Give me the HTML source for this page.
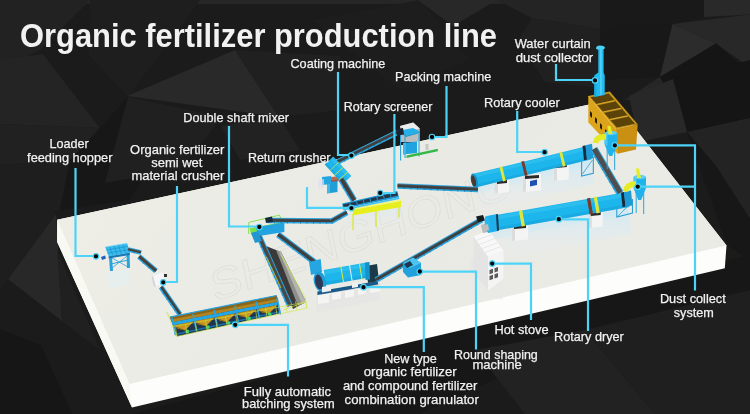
<!DOCTYPE html>
<html><head><meta charset="utf-8">
<style>
html,body{margin:0;padding:0;background:#1d1d1d;overflow:hidden;}
svg{display:block;will-change:transform;}
text{font-family:"Liberation Sans",sans-serif;fill:#f2f2f2;}
.lb{font-size:13px;stroke:#f2f2f2;stroke-width:0.25;}
</style></head><body>
<svg width="750" height="414" viewBox="0 0 750 414">
<defs>
<linearGradient id="topg" x1="0" y1="0" x2="1" y2="0.3">
<stop offset="0" stop-color="#efefe7"/><stop offset="0.55" stop-color="#eaeae5"/><stop offset="1" stop-color="#ebebe6"/>
</linearGradient>
<linearGradient id="refl" x1="0" y1="0" x2="0" y2="1">
<stop offset="0" stop-color="#cde9f5" stop-opacity="0.85"/><stop offset="1" stop-color="#e6eef2" stop-opacity="0"/>
</linearGradient>
</defs>
<rect width="750" height="414" fill="#1d1d1d"/>
<g id="bg">
<rect width="750" height="414" fill="#1b1b1b"/>
<polygon points="0,0 750,0 750,4 0,4" fill="#262626"/>
<polygon points="0,0 90,0 40,50 0,70" fill="#222"/>
<polygon points="90,0 200,0 128,97 89,56" fill="#1e1e1e"/>
<polygon points="127,96 235,50 279,117" fill="#292929"/>
<polygon points="235,50 340,56 340,110 279,117" fill="#202020"/>
<polygon points="221,126 279,117 300,150 240,160" fill="#222"/>
<polygon points="0,60 43,54 100,128 0,124" fill="#242424"/>
<polygon points="0,124 100,128 70,160 0,165" fill="#212121"/>
<polygon points="0,165 70,160 60,210 0,210" fill="#1e1e1e"/>
<polygon points="43,54 89,56 128,97 100,128" fill="#1b1b1b"/>
<polygon points="70,160 100,128 128,97 160,150 130,200 60,210" fill="#171717"/>
<polygon points="105,183 128,97 222,117 180,170" fill="#202020"/>
<polygon points="311,20 420,0 470,60 400,90" fill="#1d1d1d"/>
<polygon points="418,0 497,0 453,26" fill="#282828"/>
<polygon points="497,0 600,0 600,29 532,18" fill="#242424"/>
<polygon points="532,18 600,29 600,88 545,82 518,40" fill="#202020"/>
<polygon points="600,0 704,0 704,17 672.5,24 600,27" fill="#191919"/>
<polygon points="704,0 750,0 750,14.5 704,17" fill="#292929"/>
<polygon points="600,27 672.5,24 660,77 600,80" fill="#181818"/>
<polygon points="672.5,24 750,14.5 750,67.6 716,43.5" fill="#282828"/>
<polygon points="672.5,24 716,43.5 660,77" fill="#2c2c2c"/>
<polygon points="660,77 716,43.5 750,72.5 750,100 672,100" fill="#151515"/>
<polygon points="624,100 660,77 672,100" fill="#262626"/>
<polygon points="673,79 750,60 750,118 687,132" fill="#151515"/>
<polygon points="629,96 673,79 687,132 639,142" fill="#282828"/>
<polygon points="687,132 750,118 750,219 716,166" fill="#232323"/>
<polygon points="687,132 716,166 750,219 750,260 727,245" fill="#171717"/>
<polygon points="8,279 56,214 62,321" fill="#282828"/>
<polygon points="62,321 57,250 100,350" fill="#202020"/>
<polygon points="0,200 40,180 56,214 8,279 0,290" fill="#1e1e1e"/>
<polygon points="0,329 41,345 72,414 0,414" fill="#161616"/>
<polygon points="132,414 560,300 750,255 750,300 600,330 420,414" fill="#171717"/>
<polygon points="475,350 585,330 655,414 525,414" fill="#222"/>
<polygon points="655,414 585,330 750,290 750,414" fill="#1f1f1f"/>
</g>

<g id="platform">
<polygon points="57.2,219.8 57.2,242 132,407.5 724.8,268.2 726.5,245.4 612.6,99.4" fill="#fdfdfb"/>
<polygon points="57.2,219.8 57.2,242 132,407.5 129.5,384" fill="#f9f9f4"/>
<polygon points="57.2,219.8 612.6,99.4 726.5,245.4 129.5,384" fill="url(#topg)"/>
</g>
<g id="equip">
<text x="0" y="0" transform="translate(214,302) rotate(-19.5) skewX(-8)" font-size="43" font-weight="400" textLength="318" lengthAdjust="spacingAndGlyphs" style="fill:none;stroke:#dcdcd7;stroke-width:0.6;font-family:Liberation Sans,sans-serif">SHENGHONG</text>
<g opacity="0.45">
<polygon points="106.0,273.0 128.0,269.0 131.0,284.0 110.0,289.0" fill="#dff2f8" />
<polygon points="472.0,276.0 503.0,279.0 503.0,300.0 472.0,296.0" fill="#e8e8e8" />
<polygon points="316.0,306.0 381.0,293.0 381.0,300.0 316.0,312.0" fill="#eeeeee" />
<polygon points="488.0,232.0 628.0,207.0 628.0,214.0 488.0,240.0" fill="#c8e8f4" />
<polygon points="475.0,188.0 590.0,160.0 590.0,166.0 475.0,194.0" fill="#c8e8f4" />
</g>
<polygon points="500.0,231.0 628.0,207.0 632.0,234.0 504.0,260.0" fill="url(#refl)" />
<polygon points="476.0,187.0 590.0,159.0 594.0,184.0 480.0,213.0" fill="url(#refl)" />
<polygon points="344.0,210.0 400.0,199.0 402.0,222.0 346.0,233.0" fill="url(#refl)" opacity="0.6"/>
<polygon points="109.0,257.0 112.0,257.0 113.0,271.0 110.0,271.0" fill="#2aa3dc" />
<polygon points="126.5,253.0 129.5,253.0 130.0,268.0 127.0,268.0" fill="#2aa3dc" />
<line x1="111.0" y1="264.0" x2="128.0" y2="260.0" stroke="#2aa3dc" stroke-width="1" />
<line x1="112.0" y1="258.0" x2="128.0" y2="267.0" stroke="#2aa3dc" stroke-width="0.8" />
<line x1="112.0" y1="268.0" x2="127.0" y2="256.0" stroke="#2aa3dc" stroke-width="0.8" />
<polygon points="105.2,247.0 127.2,243.3 129.8,252.8 108.6,256.2" fill="#38bcee" />
<line x1="106.3" y1="250.0" x2="128.1" y2="246.4" stroke="#1a8cc8" stroke-width="0.6" />
<line x1="107.4" y1="253.1" x2="128.9" y2="249.6" stroke="#1a8cc8" stroke-width="0.6" />
<line x1="109.6" y1="246.3" x2="112.8" y2="255.5" stroke="#1a8cc8" stroke-width="0.6" />
<line x1="114.0" y1="245.5" x2="117.1" y2="254.8" stroke="#1a8cc8" stroke-width="0.6" />
<line x1="118.4" y1="244.8" x2="121.3" y2="254.2" stroke="#1a8cc8" stroke-width="0.6" />
<line x1="122.8" y1="244.0" x2="125.6" y2="253.5" stroke="#1a8cc8" stroke-width="0.6" />
<polygon points="108.6,256.2 129.8,252.8 129.8,255.0 108.6,258.5" fill="#1a7ab8" />
<line x1="105.2" y1="247.0" x2="127.2" y2="243.3" stroke="#7ad8fa" stroke-width="0.8" />
<polygon points="101.0,257.0 105.0,255.5 106.0,258.5 102.0,260.0" fill="#1e5fc0" />
<polygon points="128.5,247.3 141.5,250.3 140.5,254.7 127.5,251.7" fill="#2aa6e0" />
<polygon points="128.3,248.3 141.3,251.3 140.8,253.2 127.8,250.2" fill="#4a3a30" />
<polygon points="128.3,248.3 141.3,251.3 141.1,251.9 128.1,248.9" fill="#5a5a5a" opacity="0.6"/>
<line x1="134.4" y1="251.6" x2="134.0" y2="253.2" stroke="#1a6fa0" stroke-width="0.8" />
<polygon points="140.8,254.4 157.8,268.9 154.2,273.1 137.2,258.6" fill="#2aa6e0" />
<polygon points="140.1,255.2 157.1,269.7 155.2,272.0 138.2,257.5" fill="#4a4038" />
<polygon points="140.1,255.2 157.1,269.7 156.7,270.1 139.7,255.6" fill="#5a5a5a" opacity="0.6"/>
<line x1="143.9" y1="262.2" x2="142.9" y2="263.4" stroke="#1a6fa0" stroke-width="0.8" />
<line x1="149.6" y1="267.0" x2="148.5" y2="268.3" stroke="#1a6fa0" stroke-width="0.8" />
<polygon points="153.0,276.0 162.5,272.5 165.4,282.0 156.0,287.0" fill="#f6f6f8" />
<polygon points="153.0,276.0 156.0,287.0 154.0,286.5 151.5,277.0" fill="#d4d4da" />
<polygon points="164.0,274.0 167.0,274.0 167.0,277.0 164.0,277.0" fill="#333" />
<polygon points="163.1,285.6 182.1,313.1 177.9,315.9 158.9,288.4" fill="#2aa6e0" />
<polygon points="162.2,286.1 181.2,313.6 179.2,315.1 160.2,287.6" fill="#3f3f3f" />
<polygon points="162.2,286.1 181.2,313.6 180.7,314.0 161.7,286.5" fill="#5a5a5a" opacity="0.6"/>
<line x1="164.1" y1="293.0" x2="162.7" y2="293.9" stroke="#1a6fa0" stroke-width="0.8" />
<line x1="167.9" y1="298.5" x2="166.5" y2="299.4" stroke="#1a6fa0" stroke-width="0.8" />
<line x1="171.7" y1="304.0" x2="170.3" y2="304.9" stroke="#1a6fa0" stroke-width="0.8" />
<line x1="175.5" y1="309.5" x2="174.1" y2="310.4" stroke="#1a6fa0" stroke-width="0.8" />
<polygon points="266.0,246.0 281.0,252.0 306.0,302.0 293.0,309.0" fill="#3a3a3a" />
<polygon points="276.0,250.0 281.0,252.0 306.0,302.0 298.0,306.0" fill="#8e8e8a" />
<polygon points="279.0,251.5 281.0,252.0 306.0,302.0 302.0,304.0" fill="#b4b4b0" />
<polygon points="260.7,232.8 292.7,304.8 287.3,307.2 255.3,235.2" fill="#2aa6e0" />
<polygon points="259.8,233.2 291.8,305.2 288.6,306.6 256.6,234.6" fill="#484848" />
<polygon points="259.8,233.2 291.8,305.2 291.3,305.4 259.3,233.4" fill="#5a5a5a" opacity="0.6"/>
<line x1="259.4" y1="240.6" x2="257.9" y2="241.2" stroke="#1a6fa0" stroke-width="0.8" />
<line x1="262.1" y1="246.6" x2="260.6" y2="247.2" stroke="#1a6fa0" stroke-width="0.8" />
<line x1="264.7" y1="252.6" x2="263.3" y2="253.2" stroke="#1a6fa0" stroke-width="0.8" />
<line x1="267.4" y1="258.6" x2="265.9" y2="259.2" stroke="#1a6fa0" stroke-width="0.8" />
<line x1="270.1" y1="264.6" x2="268.6" y2="265.2" stroke="#1a6fa0" stroke-width="0.8" />
<line x1="272.7" y1="270.6" x2="271.3" y2="271.2" stroke="#1a6fa0" stroke-width="0.8" />
<line x1="275.4" y1="276.6" x2="273.9" y2="277.2" stroke="#1a6fa0" stroke-width="0.8" />
<line x1="278.1" y1="282.6" x2="276.6" y2="283.2" stroke="#1a6fa0" stroke-width="0.8" />
<line x1="280.7" y1="288.6" x2="279.3" y2="289.2" stroke="#1a6fa0" stroke-width="0.8" />
<line x1="283.4" y1="294.6" x2="281.9" y2="295.2" stroke="#1a6fa0" stroke-width="0.8" />
<line x1="286.1" y1="300.6" x2="284.6" y2="301.2" stroke="#1a6fa0" stroke-width="0.8" />
<g fill="none" stroke="#cfe83c" stroke-width="0.7">
<polyline points="266.4,256.7 281,288"/><polyline points="280.8,254.6 305.4,297.8 305.4,302 283,310"/>
</g>
<polygon points="169.8,317.1 276.5,295.5 279.5,313.5 177.0,336.4" fill="#1f3550" />
<polygon points="169.8,317.1 276.5,295.5 277.0,302.0 172.2,322.2" fill="#8a6418" />
<polygon points="171.0,319.5 276.8,299.0 277.0,302.0 172.2,322.2" fill="#b08420" />
<polygon points="172.2,322.2 277.0,302.0 277.6,305.0 173.0,325.4" fill="#22a8e8" />
<polygon points="173.0,325.4 193.9,321.3 185.0,330.4" fill="#c8961e" />
<polygon points="173.0,325.4 185.0,330.4 178.0,328.9" fill="#9a7218" />
<polygon points="193.9,321.3 214.8,317.2 205.9,326.3" fill="#c8961e" />
<polygon points="193.9,321.3 205.9,326.3 198.9,324.8" fill="#9a7218" />
<polygon points="214.8,317.2 235.8,313.2 226.8,322.2" fill="#c8961e" />
<polygon points="214.8,317.2 226.8,322.2 219.8,320.7" fill="#9a7218" />
<polygon points="235.8,313.2 256.7,309.1 247.7,318.1" fill="#c8961e" />
<polygon points="235.8,313.2 247.7,318.1 240.7,316.6" fill="#9a7218" />
<polygon points="256.7,309.1 277.6,305.0 268.6,314.0" fill="#c8961e" />
<polygon points="256.7,309.1 268.6,314.0 261.7,312.6" fill="#9a7218" />
<line x1="169.8" y1="317.1" x2="276.5" y2="295.5" stroke="#2aa3dc" stroke-width="1.2" />
<line x1="175.0" y1="334.5" x2="279.0" y2="312.0" stroke="#1a70a8" stroke-width="1.6" />
<line x1="172.0" y1="318.0" x2="175.5" y2="335.0" stroke="#2aa3dc" stroke-width="1.6" />
<line x1="193.0" y1="313.9" x2="196.5" y2="330.9" stroke="#2aa3dc" stroke-width="1.6" />
<line x1="214.0" y1="309.8" x2="217.5" y2="326.8" stroke="#2aa3dc" stroke-width="1.6" />
<line x1="235.0" y1="305.7" x2="238.5" y2="322.7" stroke="#2aa3dc" stroke-width="1.6" />
<line x1="256.0" y1="301.6" x2="259.5" y2="318.6" stroke="#2aa3dc" stroke-width="1.6" />
<line x1="277.0" y1="297.5" x2="280.5" y2="314.5" stroke="#2aa3dc" stroke-width="1.6" />
<circle cx="187.3" cy="331.4" r="1.9" fill="#3fd46e"/>
<circle cx="207.9" cy="327.1" r="1.9" fill="#3fd46e"/>
<circle cx="228.5" cy="322.8" r="1.9" fill="#3fd46e"/>
<circle cx="249.1" cy="318.4" r="1.9" fill="#3fd46e"/>
<circle cx="269.7" cy="314.1" r="1.9" fill="#3fd46e"/>
<g fill="none" stroke="#cfe83c" stroke-width="0.6">
<polyline points="166.8,312.3 177,336.4 307,308 305,300"/><polyline points="166.8,312.3 169.8,317.1"/><polyline points="171,327 306,302"/>
<line x1="177.0" y1="336.4" x2="175.5" y2="327.4"/>
<line x1="187.0" y1="334.2" x2="185.5" y2="325.2"/>
<line x1="197.0" y1="332.0" x2="195.5" y2="323.0"/>
<line x1="207.0" y1="329.8" x2="205.5" y2="320.8"/>
<line x1="217.0" y1="327.7" x2="215.5" y2="318.7"/>
<line x1="227.0" y1="325.5" x2="225.5" y2="316.5"/>
<line x1="237.0" y1="323.3" x2="235.5" y2="314.3"/>
<line x1="247.0" y1="321.1" x2="245.5" y2="312.1"/>
<line x1="257.0" y1="318.9" x2="255.5" y2="309.9"/>
<line x1="267.0" y1="316.7" x2="265.5" y2="307.7"/>
<line x1="277.0" y1="314.6" x2="275.5" y2="305.6"/>
<line x1="287.0" y1="312.4" x2="285.5" y2="303.4"/>
<line x1="297.0" y1="310.2" x2="295.5" y2="301.2"/>
<line x1="307.0" y1="308.0" x2="305.5" y2="299.0"/>
</g>
<polygon points="249.7,228.2 282.5,222.0 284.0,228.0 251.0,234.5" fill="#7de045" />
<polyline points="248.7,234 248.7,222.4 279.6,215.1 281.5,221" fill="none" stroke="#7de045" stroke-width="0.9"/>
<polygon points="255.5,227.2 284.4,222.5 284.4,232.0 259.3,236.0" fill="#23a3e0" />
<polygon points="251.0,233.0 258.0,231.0 262.0,241.0 255.0,243.0" fill="#2196d0" />
<polygon points="268.0,217.8 333.0,218.3 333.0,223.7 268.0,223.2" fill="#2aa6e0" />
<polygon points="268.0,218.8 333.0,219.3 333.0,222.2 268.0,221.7" fill="#3f3f3f" />
<polygon points="268.0,218.8 333.0,219.3 333.0,219.9 268.0,219.4" fill="#5a5a5a" opacity="0.6"/>
<line x1="274.5" y1="221.7" x2="274.5" y2="223.3" stroke="#1a6fa0" stroke-width="0.8" />
<line x1="281.0" y1="221.7" x2="281.0" y2="223.3" stroke="#1a6fa0" stroke-width="0.8" />
<line x1="287.5" y1="221.8" x2="287.5" y2="223.4" stroke="#1a6fa0" stroke-width="0.8" />
<line x1="294.0" y1="221.8" x2="294.0" y2="223.4" stroke="#1a6fa0" stroke-width="0.8" />
<line x1="300.5" y1="221.9" x2="300.5" y2="223.5" stroke="#1a6fa0" stroke-width="0.8" />
<line x1="307.0" y1="221.9" x2="307.0" y2="223.5" stroke="#1a6fa0" stroke-width="0.8" />
<line x1="313.5" y1="222.0" x2="313.5" y2="223.6" stroke="#1a6fa0" stroke-width="0.8" />
<line x1="320.0" y1="222.0" x2="320.0" y2="223.6" stroke="#1a6fa0" stroke-width="0.8" />
<line x1="326.5" y1="222.1" x2="326.5" y2="223.7" stroke="#1a6fa0" stroke-width="0.8" />
<polygon points="329.7,219.1 345.7,210.1 348.3,214.9 332.3,223.9" fill="#2aa6e0" />
<polygon points="330.1,220.0 346.1,211.0 347.6,213.6 331.6,222.6" fill="#3f3f3f" />
<polygon points="330.1,220.0 346.1,211.0 346.4,211.5 330.4,220.5" fill="#5a5a5a" opacity="0.6"/>
<line x1="339.6" y1="218.0" x2="340.3" y2="219.4" stroke="#1a6fa0" stroke-width="0.8" />
<polygon points="279.8,232.1 318.8,261.6 315.2,266.4 276.2,236.9" fill="#2aa6e0" />
<polygon points="279.2,232.9 318.2,262.4 316.1,265.2 277.1,235.7" fill="#3f3f3f" />
<polygon points="279.2,232.9 318.2,262.4 317.8,262.9 278.8,233.4" fill="#5a5a5a" opacity="0.6"/>
<line x1="282.7" y1="239.8" x2="281.8" y2="241.1" stroke="#1a6fa0" stroke-width="0.8" />
<line x1="288.3" y1="244.0" x2="287.3" y2="245.3" stroke="#1a6fa0" stroke-width="0.8" />
<line x1="293.9" y1="248.3" x2="292.9" y2="249.5" stroke="#1a6fa0" stroke-width="0.8" />
<line x1="299.4" y1="252.5" x2="298.5" y2="253.7" stroke="#1a6fa0" stroke-width="0.8" />
<line x1="305.0" y1="256.7" x2="304.0" y2="258.0" stroke="#1a6fa0" stroke-width="0.8" />
<line x1="310.6" y1="260.9" x2="309.6" y2="262.2" stroke="#1a6fa0" stroke-width="0.8" />
<polygon points="309.0,262.0 320.7,259.0 322.0,272.0 311.0,275.0" fill="#26a6e0" />
<polygon points="265.0,218.0 272.0,216.5 273.0,222.0 266.0,223.0" fill="#1a2a3a" />
<polygon points="316.0,298.0 380.0,285.0 380.0,300.0 316.0,313.0" fill="#dcdcdc" opacity="0.35"/>
<polygon points="318.0,292.5 329.0,291.0 329.0,302.5 318.0,304.0" fill="#f4f4f4" />
<polygon points="318.0,292.5 329.0,291.0 329.0,293.5 318.0,295.0" fill="#d8d8d8" />
<polygon points="332.0,290.5 341.0,289.0 341.0,298.5 332.0,300.0" fill="#f4f4f4" />
<polygon points="332.0,290.5 341.0,289.0 341.0,291.5 332.0,293.0" fill="#d8d8d8" />
<polygon points="345.0,288.5 354.0,287.0 354.0,296.5 345.0,298.0" fill="#f4f4f4" />
<polygon points="345.0,288.5 354.0,287.0 354.0,289.5 345.0,291.0" fill="#d8d8d8" />
<polygon points="358.0,286.5 366.0,285.0 366.0,293.5 358.0,295.0" fill="#f4f4f4" />
<polygon points="358.0,286.5 366.0,285.0 366.0,287.5 358.0,289.0" fill="#d8d8d8" />
<polygon points="370.0,284.5 380.0,283.0 380.0,291.5 370.0,293.0" fill="#f4f4f4" />
<polygon points="370.0,284.5 380.0,283.0 380.0,285.5 370.0,287.0" fill="#d8d8d8" />
<polygon points="317.4,291.5 378.0,281.0 378.0,284.5 317.4,295.0" fill="#1a5a8a" />
<polygon points="366.0,266.0 377.0,264.0 379.0,281.0 368.0,283.0" fill="#1a3a4a" />
<polygon points="323.7,270.0 366.7,262.5 369.3,277.5 326.3,285.0" fill="#1db6ec" />
<polygon points="323.8,270.8 366.8,263.3 367.5,267.0 324.5,274.5" fill="#52d2f8" opacity="0.3"/>
<polygon points="325.8,282.0 368.8,274.5 369.3,277.5 326.3,285.0" fill="#0c8fc8" opacity="0.3"/>
<polygon points="340.3,266.5 341.3,266.3 344.1,282.5 343.1,282.7" fill="#dfe83a" />
<polygon points="358.8,263.3 359.8,263.1 362.6,279.3 361.6,279.5" fill="#dfe83a" />
<polygon points="348.9,265.0 349.9,264.8 352.7,281.0 351.7,281.2" fill="#e8eef0" />
<polygon points="365.0,262.5 369.5,262.0 370.0,279.5 365.5,280.0" fill="#1890c8" />
<ellipse cx="320" cy="281.5" rx="6.2" ry="10.2" transform="rotate(-12 320 281.5)" fill="#1f9ed8"/>
<ellipse cx="319" cy="282" rx="3.8" ry="7.5" transform="rotate(-12 319 282)" fill="#2e3a55"/>
<polygon points="322.0,287.0 331.0,285.5 331.0,291.0 322.0,292.5" fill="#f0f0f0" />
<polygon points="352.0,283.0 358.0,282.0 358.0,287.0 352.0,288.0" fill="#f0f0f0" />
<polygon points="374.6,277.6 480.6,217.1 483.4,221.9 377.4,282.4" fill="#2aa6e0" />
<polygon points="375.1,278.5 481.1,218.0 482.6,220.6 376.6,281.1" fill="#3f3f3f" />
<polygon points="375.1,278.5 481.1,218.0 481.4,218.5 375.4,279.0" fill="#5a5a5a" opacity="0.6"/>
<line x1="382.5" y1="277.6" x2="383.3" y2="279.0" stroke="#1a6fa0" stroke-width="0.8" />
<line x1="388.3" y1="274.3" x2="389.1" y2="275.7" stroke="#1a6fa0" stroke-width="0.8" />
<line x1="394.2" y1="270.9" x2="395.0" y2="272.3" stroke="#1a6fa0" stroke-width="0.8" />
<line x1="400.1" y1="267.6" x2="400.9" y2="268.9" stroke="#1a6fa0" stroke-width="0.8" />
<line x1="406.0" y1="264.2" x2="406.8" y2="265.6" stroke="#1a6fa0" stroke-width="0.8" />
<line x1="411.9" y1="260.8" x2="412.7" y2="262.2" stroke="#1a6fa0" stroke-width="0.8" />
<line x1="417.8" y1="257.5" x2="418.6" y2="258.9" stroke="#1a6fa0" stroke-width="0.8" />
<line x1="423.7" y1="254.1" x2="424.5" y2="255.5" stroke="#1a6fa0" stroke-width="0.8" />
<line x1="429.6" y1="250.7" x2="430.4" y2="252.1" stroke="#1a6fa0" stroke-width="0.8" />
<line x1="435.5" y1="247.4" x2="436.3" y2="248.8" stroke="#1a6fa0" stroke-width="0.8" />
<line x1="441.3" y1="244.0" x2="442.1" y2="245.4" stroke="#1a6fa0" stroke-width="0.8" />
<line x1="447.2" y1="240.7" x2="448.0" y2="242.1" stroke="#1a6fa0" stroke-width="0.8" />
<line x1="453.1" y1="237.3" x2="453.9" y2="238.7" stroke="#1a6fa0" stroke-width="0.8" />
<line x1="459.0" y1="233.9" x2="459.8" y2="235.3" stroke="#1a6fa0" stroke-width="0.8" />
<line x1="464.9" y1="230.6" x2="465.7" y2="232.0" stroke="#1a6fa0" stroke-width="0.8" />
<line x1="470.8" y1="227.2" x2="471.6" y2="228.6" stroke="#1a6fa0" stroke-width="0.8" />
<line x1="476.7" y1="223.9" x2="477.5" y2="225.2" stroke="#1a6fa0" stroke-width="0.8" />
<polygon points="476.0,216.5 483.0,215.0 485.0,220.5 478.0,222.0" fill="#1a1a1a" />
<polygon points="402.8,263.0 413.0,257.5 421.0,263.0 421.0,275.0 408.0,277.6 403.0,272.0" fill="#22a2dc" />
<polygon points="403.0,263.0 413.0,257.5 421.0,263.0 410.0,268.0" fill="#4cc4f0" />
<polygon points="404.0,264.0 410.0,261.0 413.0,265.0 407.0,268.0" fill="#1a3a50" />
<polygon points="470.6,259.5 477.4,258.0 477.4,273.0 470.6,274.0" fill="#e6e6e6" />
<polygon points="473.5,236.3 488.0,256.6 488.0,290.4 473.5,273.0" fill="#e4e4e4" />
<polygon points="488.0,256.6 503.5,250.8 503.5,278.8 488.0,290.4" fill="#f4f4f4" />
<polygon points="473.5,236.3 489.0,230.5 503.5,250.8 488.0,256.6" fill="#f8f8f8" />
<g stroke="#d0d0d0" stroke-width="0.5">
<line x1="476.4" y1="240.4" x2="491.9" y2="234.6" stroke="#d6d6d6" stroke-width="0.5" />
<line x1="479.3" y1="244.4" x2="494.8" y2="238.6" stroke="#d6d6d6" stroke-width="0.5" />
<line x1="482.2" y1="248.5" x2="497.7" y2="242.7" stroke="#d6d6d6" stroke-width="0.5" />
<line x1="485.1" y1="252.5" x2="500.6" y2="246.7" stroke="#d6d6d6" stroke-width="0.5" />
</g>
<g fill="#5a5a5a"><polygon points="489.5,270 493,268.8 493,273 489.5,274.2"/><polygon points="494.5,268.3 498,267 498,271.2 494.5,272.5"/><polygon points="489.5,276 493,274.8 493,279 489.5,280.2"/><polygon points="494.5,274.3 498,273 498,277.2 494.5,278.5"/></g>
<polygon points="481.0,225.0 491.0,222.0 493.0,231.0 483.0,233.0" fill="#b8b8b8" />
<polygon points="512.0,225.5 528.0,224.0 528.0,239.5 512.0,241.0" fill="#f4f4f4" />
<polygon points="512.0,225.5 515.0,225.0 515.0,240.5 512.0,241.0" fill="#dcdcdc" />
<polygon points="514.0,226.0 526.0,225.0 526.0,228.0 514.0,229.0" fill="#2a2a2a" />
<polygon points="588.8,212.5 602.7,211.0 602.7,226.5 588.8,228.0" fill="#f4f4f4" />
<polygon points="588.8,212.5 591.8,212.0 591.8,227.5 588.8,228.0" fill="#dcdcdc" />
<polygon points="590.8,213.0 600.7,212.0 600.7,215.0 590.8,216.0" fill="#2a2a2a" />
<polyline points="616.8,203 616.8,217 632.5,213 632.5,199" fill="none" stroke="#2a9fd6" stroke-width="1.1"/>
<line x1="618.0" y1="216.0" x2="630.0" y2="204.0" stroke="#2a9fd6" stroke-width="0.8" />
<polygon points="490.7,216.0 626.7,192.0 629.3,207.0 493.3,231.0" fill="#1db6ec" />
<polygon points="490.8,216.8 626.8,192.8 627.5,196.5 491.5,220.5" fill="#52d2f8" opacity="0.3"/>
<polygon points="492.8,228.0 628.8,204.0 629.3,207.0 493.3,231.0" fill="#0c8fc8" opacity="0.3"/>
<polygon points="518.9,210.4 522.1,209.8 525.0,226.0 521.7,226.6" fill="#dfe83a" />
<polygon points="593.7,197.2 596.9,196.6 599.8,212.8 596.5,213.4" fill="#dfe83a" />
<polygon points="586.9,198.4 590.1,197.8 593.0,214.0 589.7,214.6" fill="#7a3a2a" />
<polygon points="621.0,192.5 624.0,192.0 625.5,206.5 622.5,207.0" fill="#1a2a3a" />
<polygon points="624.0,192.0 631.0,190.5 632.5,205.5 625.5,206.5" fill="#1e9ad6" />
<polygon points="487.0,216.0 497.0,214.0 498.0,231.0 488.0,233.0" fill="#1fb0ea" />
<ellipse cx="487.5" cy="224.5" rx="2.5" ry="8.6" transform="rotate(-10 487.5 224.5)" fill="#25b8f0"/>
<polygon points="496.0,214.5 498.0,214.0 499.0,230.5 497.0,231.0" fill="#1a3a50" />
<polygon points="481.0,226.0 488.0,224.0 489.0,230.0 483.0,232.0" fill="#bdbdbd" />
<polygon points="495.0,180.5 509.0,179.0 509.0,192.0 495.0,193.5" fill="#f4f4f4" />
<polygon points="495.0,180.5 498.0,180.0 498.0,193.0 495.0,193.5" fill="#dcdcdc" />
<polygon points="497.0,181.0 507.0,180.0 507.0,183.0 497.0,184.0" fill="#2a2a2a" />
<polygon points="523.0,175.5 541.0,174.0 541.0,190.5 523.0,192.0" fill="#f4f4f4" />
<polygon points="523.0,175.5 526.0,175.0 526.0,191.5 523.0,192.0" fill="#dcdcdc" />
<polygon points="525.0,176.0 539.0,175.0 539.0,178.0 525.0,179.0" fill="#2a2a2a" />
<polygon points="554.0,164.5 568.8,163.0 568.8,179.5 554.0,181.0" fill="#f4f4f4" />
<polygon points="554.0,164.5 557.0,164.0 557.0,180.5 554.0,181.0" fill="#dcdcdc" />
<polygon points="556.0,165.0 566.8,164.0 566.8,167.0 556.0,168.0" fill="#2a2a2a" />
<polygon points="530.0,181.0 537.0,179.5 537.0,185.0 530.0,186.5" fill="#2050b0" />
<polyline points="581.6,160 581.6,176 593.3,173.4 593.3,157" fill="none" stroke="#2a9fd6" stroke-width="1.1"/>
<line x1="582.5" y1="174.0" x2="592.5" y2="160.0" stroke="#2a9fd6" stroke-width="0.8" />
<polygon points="473.4,173.8 588.4,145.8 591.6,159.2 476.6,187.2" fill="#1db6ec" />
<polygon points="473.5,174.5 588.5,146.5 589.3,149.8 474.3,177.8" fill="#52d2f8" opacity="0.3"/>
<polygon points="476.0,184.5 591.0,156.5 591.6,159.2 476.6,187.2" fill="#0c8fc8" opacity="0.3"/>
<polygon points="499.5,166.9 502.2,166.2 505.7,180.7 503.0,181.4" fill="#dfe83a" />
<polygon points="559.3,152.3 562.0,151.6 565.5,166.1 562.8,166.8" fill="#dfe83a" />
<polygon points="521.3,161.6 524.1,160.9 527.6,175.4 524.8,176.0" fill="#7a3a2a" />
<polygon points="582.5,146.0 585.5,145.3 587.0,159.5 584.0,160.2" fill="#1a2a3a" />
<polygon points="585.5,145.3 592.0,143.8 593.5,158.0 587.0,159.5" fill="#1e9ad6" />
<ellipse cx="474.3" cy="180.8" rx="3.3" ry="7.5" transform="rotate(-13 474.3 180.8)" fill="#1590c8"/>
<ellipse cx="473.6" cy="181.1" rx="2.2" ry="5.7" transform="rotate(-13 473.6 181.1)" fill="#4a3a30"/>
<polygon points="597.2,147.1 623.2,191.1 616.8,194.9 590.8,150.9" fill="#2aa6e0" />
<polygon points="596.4,147.6 622.4,191.6 618.1,194.1 592.1,150.1" fill="#4e4e4e" />
<polygon points="596.4,147.6 622.4,191.6 621.9,191.9 595.9,147.9" fill="#5a5a5a" opacity="0.6"/>
<line x1="595.9" y1="156.4" x2="594.5" y2="157.2" stroke="#1a6fa0" stroke-width="0.8" />
<line x1="599.6" y1="162.7" x2="598.2" y2="163.5" stroke="#1a6fa0" stroke-width="0.8" />
<line x1="603.3" y1="169.0" x2="601.9" y2="169.8" stroke="#1a6fa0" stroke-width="0.8" />
<line x1="607.0" y1="175.2" x2="605.6" y2="176.1" stroke="#1a6fa0" stroke-width="0.8" />
<line x1="610.7" y1="181.5" x2="609.3" y2="182.3" stroke="#1a6fa0" stroke-width="0.8" />
<line x1="614.4" y1="187.8" x2="613.1" y2="188.6" stroke="#1a6fa0" stroke-width="0.8" />
<polygon points="588.3,96.0 609.8,91.5 637.7,124.3 616.0,129.0" fill="#c8961a" />
<polygon points="590.5,97.3 608.8,93.4 635.0,123.8 616.8,127.6" fill="#5a4208" />
<polygon points="596.3,104.0 614.6,100.1 615.9,101.6 597.6,105.5" fill="#9a7414" />
<polygon points="596.3,104.0 614.6,100.1 614.6,101.3 596.3,105.2" fill="#d4a42a" />
<polygon points="602.9,111.5 621.1,107.7 622.4,109.2 604.2,113.1" fill="#9a7414" />
<polygon points="602.9,111.5 621.1,107.7 621.1,108.9 602.9,112.7" fill="#d4a42a" />
<polygon points="609.4,119.1 627.7,115.3 629.0,116.8 610.8,120.6" fill="#9a7414" />
<polygon points="609.4,119.1 627.7,115.3 627.7,116.5 609.4,120.3" fill="#d4a42a" />
<polygon points="588.3,96.0 616.0,129.0 617.4,153.8 588.3,122.3" fill="#dca41a" />
<polygon points="616.0,129.0 637.7,124.3 636.0,149.6 617.4,153.8" fill="#c99012" />
<line x1="588.3" y1="96.0" x2="616.0" y2="129.0" stroke="#f0c040" stroke-width="0.8" />
<g fill="#2a1e08"><polygon points="590,111 592,113 592,118 590,116"/><polygon points="595,117 597,119 597,124 595,122"/><polygon points="600,123 602,125 602,130 600,128"/><polygon points="605,129 607,131 607,136 605,134"/></g>
<polygon points="598.3,49.0 603.6,49.0 603.6,72.4 604.7,75.4 604.7,95.0 594.2,97.0 594.2,75.4 598.3,72.4" fill="#22bdf0" />
<polygon points="600.0,49.0 601.8,49.0 601.8,95.0 600.0,95.0" fill="#7ae0fc" opacity="0.5"/>
<polygon points="594.2,76.0 596.5,76.0 596.5,96.5 594.2,97.0" fill="#12a0d8" opacity="0.6"/>
<path d="M596,48.5 Q596,45.5 600,45.5 Q604,45.5 605,47.5 Q605,49.5 601,49.5 L597,49.5 Z" fill="#4ccff6"/>
<line x1="607.2" y1="147.0" x2="607.2" y2="169.0" stroke="#2aa3dc" stroke-width="1" />
<line x1="614.7" y1="147.0" x2="614.7" y2="170.0" stroke="#2aa3dc" stroke-width="1" />
<polygon points="604.5,133.0 617.0,133.0 617.0,144.0 612.2,156.0 609.2,156.0 604.5,144.0" fill="#20b2ea" />
<polygon points="604.5,133.0 607.5,133.0 607.5,146.0 604.5,144.0" fill="#6ad8fa" opacity="0.6"/>
<ellipse cx="610.7" cy="133" rx="6.25" ry="2.2" fill="#5cd0f4"/>
<path d="M595.5,143 Q596.5,136 606,137" fill="none" stroke="#e4ec28" stroke-width="5.5"/>
<polygon points="607.5,126.0 610.5,126.0 612.5,134.0 608.5,134.0" fill="#e4ec28" />
<line x1="636.2" y1="191.0" x2="636.2" y2="213.0" stroke="#2aa3dc" stroke-width="1" />
<line x1="643.7" y1="191.0" x2="643.7" y2="214.0" stroke="#2aa3dc" stroke-width="1" />
<polygon points="633.5,177.0 646.0,177.0 646.0,188.0 641.2,200.0 638.2,200.0 633.5,188.0" fill="#20b2ea" />
<polygon points="633.5,177.0 636.5,177.0 636.5,190.0 633.5,188.0" fill="#6ad8fa" opacity="0.6"/>
<ellipse cx="639.7" cy="177" rx="6.25" ry="2.2" fill="#5cd0f4"/>
<path d="M625.5,191.5 Q626.5,184 636,184" fill="none" stroke="#e4ec28" stroke-width="5.5"/>
<polygon points="636.0,168.6 639.0,168.6 641.0,178.0 637.0,178.0" fill="#e4ec28" />
<polygon points="336.2,159.5 396.8,129.5 399.2,134.5 338.6,164.5" fill="#2aa6e0" />
<polygon points="336.6,160.4 397.2,130.4 398.6,133.1 338.0,163.1" fill="#3f3f3f" />
<polygon points="336.6,160.4 397.2,130.4 397.5,131.0 336.9,161.0" fill="#5a5a5a" opacity="0.6"/>
<line x1="344.0" y1="160.0" x2="344.7" y2="161.5" stroke="#1a6fa0" stroke-width="0.8" />
<line x1="350.0" y1="157.0" x2="350.7" y2="158.5" stroke="#1a6fa0" stroke-width="0.8" />
<line x1="356.1" y1="154.0" x2="356.8" y2="155.5" stroke="#1a6fa0" stroke-width="0.8" />
<line x1="362.2" y1="151.0" x2="362.9" y2="152.5" stroke="#1a6fa0" stroke-width="0.8" />
<line x1="368.2" y1="148.0" x2="368.9" y2="149.5" stroke="#1a6fa0" stroke-width="0.8" />
<line x1="374.3" y1="145.0" x2="375.0" y2="146.5" stroke="#1a6fa0" stroke-width="0.8" />
<line x1="380.3" y1="142.0" x2="381.0" y2="143.5" stroke="#1a6fa0" stroke-width="0.8" />
<line x1="386.4" y1="139.0" x2="387.1" y2="140.5" stroke="#1a6fa0" stroke-width="0.8" />
<line x1="392.5" y1="136.0" x2="393.2" y2="137.5" stroke="#1a6fa0" stroke-width="0.8" />
<polygon points="327.0,181.0 337.5,179.5 337.5,192.0 327.0,193.5" fill="#1f9ed8" />
<polygon points="327.0,181.0 330.0,180.6 330.0,193.0 327.0,193.5" fill="#5cc8f0" opacity="0.6"/>
<polygon points="322.0,177.0 331.0,176.0 331.0,184.0 322.0,185.0" fill="#26a6e0" />
<polygon points="331.0,177.0 340.0,176.0 340.0,181.0 331.0,182.0" fill="#b04a2a" opacity="0.8"/>
<polygon points="318.0,180.0 324.0,179.0 324.0,188.0 318.0,189.0" fill="#e0e0f0" opacity="0.7"/>
<polygon points="333.3,156.6 351.3,176.1 342.7,183.9 324.7,164.4" fill="#1db6ec" />
<polygon points="332.8,157.0 350.8,176.5 348.7,178.4 330.7,158.9" fill="#52d2f8" opacity="0.3"/>
<polygon points="326.4,162.9 344.4,182.4 342.7,183.9 324.7,164.4" fill="#0c8fc8" opacity="0.3"/>
<polygon points="338.8,161.9 339.2,162.3 330.0,170.8 329.6,170.4" fill="#dfe83a" />
<polygon points="343.3,166.7 343.7,167.2 334.5,175.7 334.1,175.2" fill="#dfe83a" />
<polygon points="347.8,171.6 348.2,172.1 339.0,180.6 338.6,180.1" fill="#dfe83a" />
<polygon points="344.0,177.3 356.8,198.8 351.2,202.2 338.4,180.7" fill="#2aa6e0" />
<polygon points="343.1,177.8 355.9,199.3 352.5,201.4 339.7,179.9" fill="#3f3f3f" />
<polygon points="343.1,177.8 355.9,199.3 355.4,199.7 342.6,178.2" fill="#5a5a5a" opacity="0.6"/>
<line x1="344.0" y1="187.0" x2="342.7" y2="187.8" stroke="#1a6fa0" stroke-width="0.8" />
<line x1="348.3" y1="194.2" x2="346.9" y2="195.0" stroke="#1a6fa0" stroke-width="0.8" />
<g stroke="#d8e820" stroke-width="1.2"><line x1="353" y1="214" x2="353" y2="229.9"/><line x1="376" y1="210" x2="376" y2="227"/><line x1="399" y1="205" x2="399" y2="217.6"/></g>
<polygon points="352.8,209.8 401.0,201.0 401.0,207.0 352.8,215.6" fill="#e6ee1c" />
<polygon points="352.8,208.0 401.0,199.2 401.0,201.0 352.8,209.8" fill="#f4f87a" />
<polygon points="342.2,203.5 397.2,191.0 399.0,197.3 343.0,209.0" fill="#1e9ad6" />
<polygon points="343.0,204.5 397.0,192.3 398.0,195.5 343.5,207.5" fill="#24364a" />
<line x1="349.8" y1="203.0" x2="350.4" y2="206.0" stroke="#2aa3dc" stroke-width="0.9" />
<line x1="356.5" y1="201.4" x2="357.2" y2="204.4" stroke="#2aa3dc" stroke-width="0.9" />
<line x1="363.2" y1="199.9" x2="363.9" y2="202.9" stroke="#2aa3dc" stroke-width="0.9" />
<line x1="370.0" y1="198.4" x2="370.7" y2="201.4" stroke="#2aa3dc" stroke-width="0.9" />
<line x1="376.8" y1="196.9" x2="377.4" y2="199.9" stroke="#2aa3dc" stroke-width="0.9" />
<line x1="383.5" y1="195.4" x2="384.2" y2="198.4" stroke="#2aa3dc" stroke-width="0.9" />
<line x1="390.2" y1="193.8" x2="390.9" y2="196.8" stroke="#2aa3dc" stroke-width="0.9" />
<polygon points="343.0,209.0 399.0,197.3 399.5,199.0 343.5,210.5" fill="#48c0ee" />
<polygon points="397.6,183.3 478.1,186.8 477.9,192.2 397.4,188.7" fill="#2aa6e0" />
<polygon points="397.6,184.3 478.1,187.8 477.9,190.7 397.4,187.2" fill="#3f3f3f" />
<polygon points="397.6,184.3 478.1,187.8 478.0,188.4 397.5,184.9" fill="#5a5a5a" opacity="0.6"/>
<line x1="404.2" y1="187.4" x2="404.1" y2="189.0" stroke="#1a6fa0" stroke-width="0.8" />
<line x1="410.9" y1="187.7" x2="410.8" y2="189.3" stroke="#1a6fa0" stroke-width="0.8" />
<line x1="417.6" y1="188.0" x2="417.5" y2="189.6" stroke="#1a6fa0" stroke-width="0.8" />
<line x1="424.3" y1="188.3" x2="424.2" y2="189.9" stroke="#1a6fa0" stroke-width="0.8" />
<line x1="431.0" y1="188.6" x2="430.9" y2="190.2" stroke="#1a6fa0" stroke-width="0.8" />
<line x1="437.7" y1="188.9" x2="437.6" y2="190.5" stroke="#1a6fa0" stroke-width="0.8" />
<line x1="444.4" y1="189.2" x2="444.3" y2="190.8" stroke="#1a6fa0" stroke-width="0.8" />
<line x1="451.1" y1="189.5" x2="451.0" y2="191.1" stroke="#1a6fa0" stroke-width="0.8" />
<line x1="457.8" y1="189.8" x2="457.8" y2="191.4" stroke="#1a6fa0" stroke-width="0.8" />
<line x1="464.5" y1="190.1" x2="464.5" y2="191.7" stroke="#1a6fa0" stroke-width="0.8" />
<line x1="471.2" y1="190.4" x2="471.2" y2="192.0" stroke="#1a6fa0" stroke-width="0.8" />
<polygon points="400.0,126.0 413.2,122.6 419.8,128.6 419.8,142.0 400.0,142.0" fill="#f2f4f6" opacity="0.75"/>
<polygon points="400.0,126.0 413.2,122.6 419.8,128.6 406.0,132.0" fill="#ffffff" opacity="0.7"/>
<g stroke="#2aa6e0" stroke-width="1.1"><line x1="400.6" y1="135" x2="400.6" y2="160.5"/><line x1="419" y1="134" x2="419" y2="156.5"/><line x1="405" y1="136" x2="405" y2="158"/></g>
<polygon points="400.0,130.5 413.0,128.0 419.8,131.5 406.0,135.5" fill="#26b0ea" />
<polygon points="400.0,130.5 406.0,135.5 406.0,137.0 400.0,132.0" fill="#1a8cc8" />
<polygon points="406.0,135.5 419.8,131.5 419.8,133.0 406.0,137.0" fill="#1f9ed8" />
<polygon points="403.0,143.0 417.0,141.5 417.0,153.0 403.0,154.5" fill="#20a4e0" />
<polygon points="403.0,143.0 406.0,142.7 406.0,154.2 403.0,154.5" fill="#5cc8f0" opacity="0.5"/>
<polygon points="406.5,155.5 437.8,148.8 437.8,151.2 406.5,158.0" fill="#34b848" />
<polygon points="396.0,129.0 403.0,128.0 404.0,134.5 397.0,135.5" fill="#1a2530" />
<polygon points="425.5,144.0 428.5,144.0 428.5,150.0 425.5,150.0" fill="#c8c8c8" />
</g>
<!-- leader lines -->
<g fill="none" stroke="#4dd3f7" stroke-width="2.2">
<polyline points="75.5,168 75.5,256 96,256"/>
<polyline points="177,186 177,282 163,282"/>
<polyline points="229,126 229,226.5 259,226.5"/>
<polyline points="338,72 338,155 351,155"/>
<polyline points="307,187 307,207.8 351,207.8"/>
<polyline points="394.4,114 394.4,193 380,193"/>
<polyline points="446.5,86 446.5,137 432,137"/>
<polyline points="517.2,111 517.2,152 544.6,152"/>
<polyline points="556,64 556,80 595,80"/>
<polyline points="615,145.3 695,145.3 695,290.5"/>
<polyline points="637.7,186.6 695,186.6"/>
<polyline points="558.8,219.3 588,219.3 588,331"/>
<polyline points="492.2,263.6 531,263.6 531,320"/>
<polyline points="419.8,271.6 476,271.6 476,349.5"/>
<polyline points="363.5,287.2 423.8,287.2 423.8,352"/>
<polyline points="235.2,324.8 288,324.8 288,376.4"/>
</g>
<g fill="#050505" stroke="#4dd3f7" stroke-width="1.2">
<circle cx="96" cy="256.3" r="2.75"/>
<circle cx="163.2" cy="282.3" r="2.75"/>
<circle cx="259.3" cy="227" r="2.75"/>
<circle cx="351.4" cy="155.6" r="2.75"/>
<circle cx="351.4" cy="208.1" r="2.75"/>
<circle cx="380.2" cy="193" r="2.75"/>
<circle cx="432" cy="137" r="2.75"/>
<circle cx="544.6" cy="152.2" r="2.75"/>
<circle cx="595" cy="80.4" r="2.75"/>
<circle cx="614.8" cy="145.4" r="2.75"/>
<circle cx="637.7" cy="186.7" r="2.75"/>
<circle cx="558.8" cy="219.2" r="2.75"/>
<circle cx="492.2" cy="263.6" r="2.75"/>
<circle cx="419.8" cy="271.5" r="2.75"/>
<circle cx="363.5" cy="287.2" r="2.75"/>
<circle cx="235.2" cy="324.8" r="2.75"/>
</g>
<!-- title -->
<text x="20" y="46.5" font-size="32.5" font-weight="700" textLength="477" lengthAdjust="spacingAndGlyphs">Organic fertilizer production line</text>
<!-- labels -->
<g class="lb">
<text x="290.5" y="67.6" textLength="94.8" lengthAdjust="spacingAndGlyphs">Coating machine</text>
<text x="395" y="81" textLength="96.2" lengthAdjust="spacingAndGlyphs">Packing machine</text>
<text x="343.8" y="111.4" textLength="88.5" lengthAdjust="spacingAndGlyphs">Rotary screener</text>
<text x="484" y="107.2" textLength="75.8" lengthAdjust="spacingAndGlyphs">Rotary cooler</text>
<text x="514.7" y="47.5" textLength="76" lengthAdjust="spacingAndGlyphs">Water curtain</text>
<text x="515.7" y="61.9" textLength="77.4" lengthAdjust="spacingAndGlyphs">dust collector</text>
<text x="183.3" y="121.5" textLength="105.7" lengthAdjust="spacingAndGlyphs">Double shaft mixer</text>
<text x="49.4" y="148.2" textLength="39.2" lengthAdjust="spacingAndGlyphs">Loader</text>
<text x="27.1" y="161.7" textLength="85.3" lengthAdjust="spacingAndGlyphs">feeding hopper</text>
<text x="130.1" y="153.5" textLength="94.3" lengthAdjust="spacingAndGlyphs">Organic fertilizer</text>
<text x="151.2" y="167.2" textLength="51.2" lengthAdjust="spacingAndGlyphs">semi wet</text>
<text x="131.5" y="180.4" textLength="92.9" lengthAdjust="spacingAndGlyphs">material crusher</text>
<text x="247.9" y="162.4" textLength="82.6" lengthAdjust="spacingAndGlyphs">Return crusher</text>
<text x="243.8" y="395.5" textLength="87.3" lengthAdjust="spacingAndGlyphs">Fully automatic</text>
<text x="242" y="407.6" textLength="92.6" lengthAdjust="spacingAndGlyphs">batching system</text>
<text x="384.2" y="362.5" textLength="52.6" lengthAdjust="spacingAndGlyphs">New type</text>
<text x="363.7" y="376.4" textLength="92.9" lengthAdjust="spacingAndGlyphs">organic fertilizer</text>
<text x="342.9" y="390.3" textLength="134.5" lengthAdjust="spacingAndGlyphs">and compound fertilizer</text>
<text x="344.6" y="404.1" textLength="134.2" lengthAdjust="spacingAndGlyphs">combination granulator</text>
<text x="454" y="359.2" textLength="83.8" lengthAdjust="spacingAndGlyphs">Round shaping</text>
<text x="472.4" y="369.2" textLength="49.4" lengthAdjust="spacingAndGlyphs">machine</text>
<text x="494.4" y="334" textLength="54.2" lengthAdjust="spacingAndGlyphs">Hot stove</text>
<text x="554" y="340.8" textLength="69.8" lengthAdjust="spacingAndGlyphs">Rotary dryer</text>
<text x="659.9" y="303.3" textLength="65.9" lengthAdjust="spacingAndGlyphs">Dust collect</text>
<text x="673.8" y="317.1" textLength="40" lengthAdjust="spacingAndGlyphs">system</text>
</g>

</svg>
</body></html>
